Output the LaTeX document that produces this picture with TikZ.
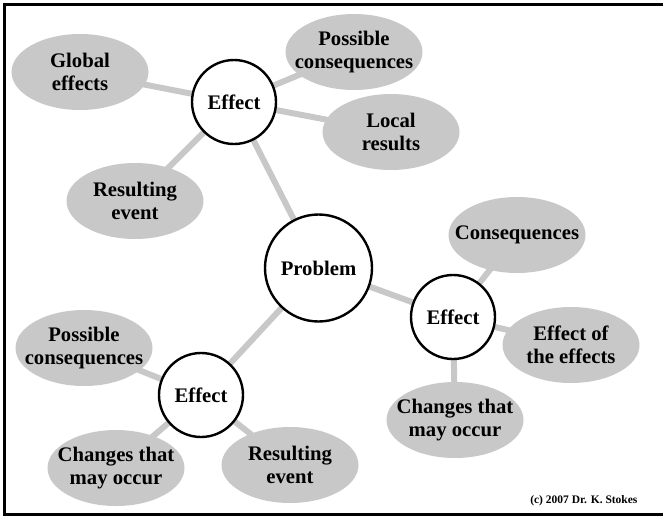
\documentclass[tikz,border=0pt]{standalone}
\usepackage{fontspec}
\setmainfont{Liberation Serif}
\usepackage{tikz}
\usetikzlibrary{calc, positioning, shapes, backgrounds}
\definecolor{ovalgray}{RGB}{200,200,200}
\tikzstyle{effect}=[draw, circle, fill=white, line width=2.4pt, minimum size=84pt, inner sep=0pt, font=\fontsize{20.7}{22.5}\selectfont\bfseries]
\tikzstyle{oval}=[ellipse, fill=ovalgray, minimum width=137pt, minimum height=76pt, inner xsep=-40pt, inner ysep=-20pt, align=center, font=\fontsize{20.7}{22.5}\selectfont\bfseries]
\tikzstyle{link}=[ovalgray, line width=6pt]

\begin{document}
\begin{tikzpicture}[x=1pt, y=-1pt]
			\useasboundingbox (0, 0) rectangle (663, 517);
			\draw[line width=3pt] (663, 4.5) -- (4.5, 4.5) -- (4.5, 514) -- (663, 514);
			% centre
			\node[effect, minimum size=107pt] (p) at (318.5, 268) {Problem};
			\node[effect] (e1) at (234, 102) {Effect};
			\node[effect] (e2) at (453, 317) {Effect};
			\node[effect] (e3) at (201, 395) {Effect};
			% top
			\node[oval] (1) at (80, 72) {Global\\effects};
			\node[oval] (2) at (354, 52) {Possible\\consequences};
			\node[oval] (3) at (391, 132) {Local\\results};
			\node[oval] (4) at (135, 201) {Resulting\\event};
			% right
			\node[oval] (5) at (517, 235) {Consequences};
			\node[oval] (6) at (571, 345) {Effect of\\the effects};
			\node[oval] (7) at (455, 420) {Changes that\\may occur};
			% bottom left
			\node[oval] (8) at (84, 348) {Possible\\consequences};
			\node[oval] (9) at (116, 468) {Changes that\\may occur};
			\node[oval] (10) at (290, 465) {Resulting\\event};
			\node[anchor=base east, font=\fontsize{11.5}{13}\selectfont\bfseries] (c) at (641, 503) {(c) 2007 Dr. K. Stokes};
			\begin{scope}[on background layer]
				\draw[link] (p.center) -- (e1.center);
				\draw[link] (p.center) -- (e2.center);
				\draw[link] (p.center) -- (e3.center);
				\foreach \i in {1,2,3,4} \draw[link] (e1.center) -- (\i.center);
				\foreach \i in {5,6,7} \draw[link] (e2.center) -- (\i.center);
				\foreach \i in {8,9,10} \draw[link] (e3.center) -- (\i.center);
			\end{scope}
		\end{tikzpicture}
\end{document}
